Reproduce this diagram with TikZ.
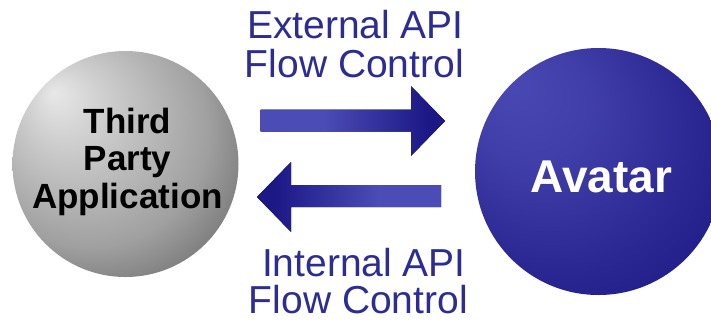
\documentclass[tikz,border=0pt]{standalone}
\usepackage{fontspec}
\setmainfont{Liberation Sans}
\definecolor{lblue}{HTML}{4C4CB6}
\definecolor{dblue}{HTML}{1C1986}
\definecolor{txtblue}{HTML}{2C2C92}
\definecolor{ga}{HTML}{E8E8E8}
\definecolor{gb}{HTML}{D0D0D0}
\definecolor{gc}{HTML}{A0A0A0}
\definecolor{gd}{HTML}{4C4C4C}
\definecolor{ba}{HTML}{4A48B2}
\definecolor{bb}{HTML}{403EA8}
\definecolor{bc}{HTML}{2B2792}
\definecolor{bd}{HTML}{1A1680}
\pgfdeclarehorizontalshading{arrowR}{100bp}{color(0bp)=(lblue); color(25bp)=(lblue); color(42bp)=(lblue); color(70bp)=(dblue); color(100bp)=(dblue)}
\pgfdeclarehorizontalshading{arrowL}{100bp}{color(0bp)=(dblue); color(30bp)=(dblue); color(58bp)=(lblue); color(75bp)=(lblue); color(100bp)=(lblue)}
\pgfdeclareradialshading{grayball}{\pgfpoint{-16bp}{16bp}}{color(0bp)=(ga); color(8bp)=(gb); color(26bp)=(gc); color(44bp)=(gd); color(50bp)=(gd)}
\pgfdeclareradialshading{blueball}{\pgfpoint{-18bp}{18bp}}{color(0bp)=(ba); color(12bp)=(bb); color(28bp)=(bc); color(42bp)=(bd); color(50bp)=(bd)}
\tikzset{
  ballnode/.style={circle, inner sep=0pt, draw=none},
  flowlabel/.style={anchor=base east, inner sep=0pt, text=txtblue, font=\fontsize{39}{39}\selectfont},
  applabel/.style={anchor=base, inner sep=0pt, font=\fontsize{35}{35}\bfseries\selectfont},
}
\begin{document}
\begin{tikzpicture}[x=1pt,y=-1pt]
\useasboundingbox (0,0) rectangle (711,322);
\clip (0,0) rectangle (711,322);
\node[ballnode, minimum size=226pt, shading=grayball] (app) at (125.5,164) {};
\node[ballnode, minimum size=247pt, shading=blueball] (avatar) at (598.5,171.5) {};
\node[applabel] (t1) at (127.5,133) {Third};
\node[applabel] (t2) at (127.5,170.5) {Party};
\node[applabel] (t3) at (127.5,208) {Application};
\node[anchor=base, inner sep=0pt, text=white, font=\fontsize{46}{46}\bfseries\selectfont] (av) at (601.5,192) {Avatar};
\fill[shading=arrowR] (260.7,109.5) -- (411,109.5) -- (411,86) -- (445,121) -- (411,156) -- (411,131.5) -- (260.7,131.5) -- cycle;
\fill[shading=arrowL] (441,185) -- (291,185) -- (291,162) -- (257,197) -- (291,232) -- (291,207) -- (441,207) -- cycle;
\node[flowlabel] (e1) at (464,38) {External API};
\node[flowlabel] (e2) at (464,77) {Flow Control};
\node[flowlabel] (i1) at (466,276) {Internal API};
\node[flowlabel] (i2) at (468,313.5) {Flow Control};
\end{tikzpicture}
\end{document}
